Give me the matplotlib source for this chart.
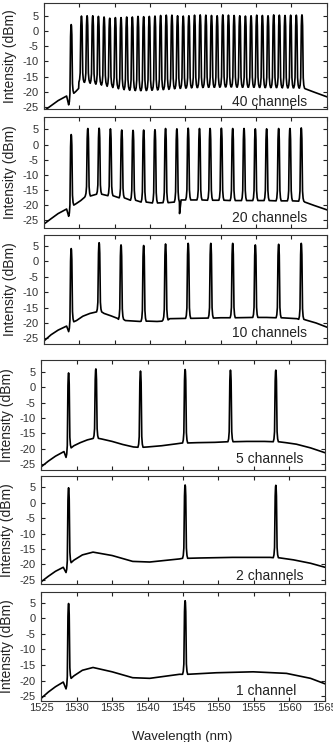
import matplotlib
matplotlib.use("Agg")
import matplotlib.pyplot as plt
import numpy as np

plt.rcParams['font.family'] = ['Liberation Sans', 'DejaVu Sans']
plt.rcParams['axes.unicode_minus'] = False

# ---- data (wavelength nm, intensity dBm) ----
labels = ["40 channels", "20 channels", "10 channels", "5 channels", "2 channels", "1 channel"]

# seed/pump line near 1528.85 nm: top, dip just before it, level right after it
seed_x = 1528.85
seed_top = [2.1, 3.3, 4.1, 4.7, 4.8, 4.8]
seed_dip = [-24.3, -23.7, -22.8, -22.8, -22.6, -22.7]
seed_after = [-20.5, -20.0, -19.6, -19.7, -19.4, -19.3]

# 40 channels
ch40_x = [1530.3, 1531.1, 1531.9, 1532.7, 1533.5, 1534.3, 1535.1, 1535.9, 1536.7, 1537.5,
          1538.3, 1539.1, 1539.9, 1540.7, 1541.5, 1542.3, 1543.1, 1543.9, 1544.7, 1545.5,
          1546.3, 1547.1, 1547.9, 1548.7, 1549.5, 1550.3, 1551.1, 1551.9, 1552.7, 1553.5,
          1554.3, 1555.1, 1555.9, 1556.7, 1557.5, 1558.3, 1559.1, 1559.9, 1560.7, 1561.5]
ch40_top = [4.9, 5.0, 5.0, 4.8, 4.6, 4.2, 4.4, 4.4, 4.6, 4.6,
            4.8, 4.7, 4.8, 4.9, 5.1, 5.2, 5.2, 5.0, 4.9, 5.0,
            5.2, 5.3, 5.2, 5.1, 5.0, 5.3, 5.2, 5.1, 5.0, 4.9,
            5.0, 5.2, 5.1, 5.0, 5.3, 5.2, 5.1, 5.2, 5.2, 5.3]
ch40_foot = [-16.8, -16.9, -17.2, -17.5, -17.8, -18.2, -18.6, -19.0, -19.3, -19.5,
             -19.6, -19.6, -19.5, -19.4, -19.3, -19.2, -19.0, -18.9, -18.8, -18.7,
             -18.6, -18.6, -18.5, -18.5, -18.5, -18.4, -18.4, -18.4, -18.5, -18.5,
             -18.5, -18.5, -18.6, -18.6, -18.6, -18.6, -18.7, -18.7, -18.7, -18.8]
bg40_x = [1524.8, 1526.0, 1527.0, 1528.2, 1529.5, 1529.9, 1561.95, 1563.2, 1565.2]
bg40_y = [-26.6, -24.6, -22.9, -21.4, -19.9, -18.9, -19.0, -20.1, -21.8]

# 20 channels
ch20_x = [1531.2, 1532.8, 1534.4, 1536.0, 1537.6, 1539.1, 1540.7, 1542.2, 1543.8, 1545.4,
          1547.0, 1548.5, 1550.1, 1551.7, 1553.3, 1554.9, 1556.5, 1558.2, 1559.8, 1561.4]
ch20_top = [5.3, 5.4, 5.2, 4.8, 4.7, 4.8, 4.9, 5.3, 5.2, 5.4,
            5.3, 5.3, 5.4, 5.3, 5.3, 5.2, 5.2, 5.3, 5.3, 5.5]
ch20_foot = [-17.0, -16.4, -16.9, -17.6, -18.4, -19.0, -19.3, -19.2, -19.0, -18.3,
             -18.3, -18.4, -18.4, -18.5, -18.5, -18.5, -18.5, -18.6, -18.6, -18.7]
bg20_x = [1524.8, 1526.0, 1527.0, 1528.2, 1529.5, 1530.2, 1530.75, 1544.18, 1544.4, 1561.9, 1563.2, 1565.2]
bg20_y = [-26.6, -24.5, -22.8, -21.3, -19.6, -18.5, -17.4, -22.8, -18.3, -19.0, -20.1, -21.7]

# 10 channels
ch10_x = [1532.8, 1535.9, 1539.1, 1542.2, 1545.4, 1548.6, 1551.7, 1554.9, 1558.2, 1561.4]
ch10_top = [6.0, 5.3, 5.1, 5.6, 5.8, 5.8, 5.8, 5.3, 5.5, 5.8]
ch10_foot = [-16.4, -18.8, -19.4, -19.0, -18.5, -18.4, -18.3, -18.2, -18.3, -18.8]
bg10_x = [1524.8, 1526.0, 1527.0, 1528.2, 1529.6, 1530.5, 1531.5, 1532.3, 1533.5, 1534.5, 1535.4,
          1536.5, 1537.8, 1538.6, 1539.8, 1541.0, 1541.7, 1542.8, 1544.8, 1550.0, 1556.5,
          1560.8, 1562.0, 1563.5, 1565.2]
bg10_y = [-26.2, -23.8, -22.3, -21.0, -19.2, -17.8, -16.9, -16.5, -16.9, -17.7, -18.5,
          -19.2, -19.4, -19.5, -19.4, -19.5, -19.4, -18.6, -18.5, -18.3, -18.2,
          -18.6, -19.0, -20.0, -21.5]

# 5 channels
ch5_x = [1532.7, 1539.0, 1545.3, 1551.7, 1558.1]
ch5_top = [6.0, 5.3, 5.8, 5.6, 5.6]
ch5_foot = [-16.6, -19.5, -18.1, -17.7, -17.7]
bg5_x = [1524.8, 1526.0, 1527.0, 1528.2, 1529.6, 1530.5, 1531.5, 1532.2, 1533.5, 1535.0,
         1536.5, 1538.0, 1540.0, 1542.0, 1544.0, 1547.0, 1549.5, 1554.0, 1556.5,
         1559.5, 1561.0, 1563.0, 1565.2]
bg5_y = [-26.2, -24.0, -22.4, -20.9, -19.0, -18.0, -17.1, -16.7, -16.8, -17.6,
         -18.6, -19.4, -19.4, -19.0, -18.4, -18.0, -17.9, -17.6, -17.6,
         -18.0, -18.5, -19.7, -21.4]

# 2 channels
ch2_x = [1545.3, 1558.1]
ch2_top = [5.7, 5.6]
ch2_foot = [-18.0, -17.8]
bg2_x = [1524.8, 1526.0, 1527.0, 1528.1, 1529.6, 1530.8, 1532.3, 1535.0, 1537.9, 1540.3,
         1544.5, 1547.3, 1552.0, 1557.3, 1560.6, 1563.0, 1565.2]
bg2_y = [-25.9, -23.8, -22.2, -20.9, -18.6, -16.9, -16.0, -17.1, -19.0, -19.2,
         -18.2, -17.9, -17.7, -17.7, -18.5, -19.6, -21.0]

# 1 channel
ch1_x = [1545.3]
ch1_top = [5.7]
ch1_foot = [-18.0]
bg1_x = [1524.8, 1526.0, 1527.0, 1528.1, 1529.6, 1530.8, 1532.3, 1535.0, 1537.9, 1540.3,
         1544.5, 1549.7, 1554.9, 1559.6, 1563.0, 1565.2]
bg1_y = [-26.1, -23.7, -22.0, -20.5, -18.5, -16.7, -15.8, -17.2, -19.1, -19.3,
         -18.0, -17.5, -17.2, -17.7, -19.3, -21.2]

panels = [
    (ch40_x, ch40_top, ch40_foot, bg40_x, bg40_y),
    (ch20_x, ch20_top, ch20_foot, bg20_x, bg20_y),
    (ch10_x, ch10_top, ch10_foot, bg10_x, bg10_y),
    (ch5_x, ch5_top, ch5_foot, bg5_x, bg5_y),
    (ch2_x, ch2_top, ch2_foot, bg2_x, bg2_y),
    (ch1_x, ch1_top, ch1_foot, bg1_x, bg1_y),
]

# ---- peak outline (style): offset in nm, fraction of peak height ----
pk_off = np.array([-0.36, -0.26, -0.18, -0.14, -0.09, -0.04, 0.0,
                   0.04, 0.09, 0.14, 0.18, 0.26, 0.36])
pk_frac = np.array([0.0, 0.04, 0.14, 0.45, 0.85, 0.98, 1.0,
                    0.98, 0.85, 0.45, 0.14, 0.04, 0.0])
half_win = 0.36


def build_trace(bx, by, px, ptop, pfl, pfr):
    xs, ys = [], []
    for x, y in zip(bx, by):
        if all(abs(x - p) > half_win for p in px):
            xs.append(x)
            ys.append(y)
    for p, top, fl, fr in zip(px, ptop, pfl, pfr):
        for off, fr_ in zip(pk_off, pk_frac):
            foot = fl if off < 0 else fr
            xs.append(p + off)
            ys.append(foot + fr_ * (top - foot))
    order = np.argsort(xs, kind="stable")
    return np.array(xs)[order], np.array(ys)[order]


# ---- layout in pixels: left, right, top, bottom, ylim, x max ----
W, H = 333, 742
boxes = [
    (44.0, 326.7, 3.3, 108.5, (-25.5, 9.1), 1564.8),
    (44.0, 326.7, 117.0, 227.5, (-27.4, 9.1), 1564.8),
    (44.0, 326.7, 235.0, 344.0, (-26.8, 8.5), 1564.8),
    (41.3, 324.7, 360.0, 470.0, (-26.9, 8.9), 1565.0),
    (41.3, 324.7, 476.0, 584.3, (-26.4, 8.6), 1565.0),
    (41.3, 324.7, 591.7, 700.7, (-26.5, 8.6), 1565.0),
]
label_x = [232, 232, 232, 236, 236, 236]
label_y = [102, 217.5, 333.3, 458.7, 576, 690.7]
ylab_x = [10, 10, 10, 7.5, 7.5, 7.5]

fig = plt.figure(figsize=(W / 100, H / 100), dpi=100, facecolor='white')

for i, (l, r, t, b, ylim, xmax) in enumerate(boxes):
    ax = fig.add_axes([l / W, 1 - b / H, (r - l) / W, (b - t) / H])
    chx, chtop, chfoot, bx, by = panels[i]
    px = [seed_x] + list(chx)
    ptop = [seed_top[i]] + list(chtop)
    pfl = [seed_dip[i]] + list(chfoot)
    pfr = [seed_after[i]] + list(chfoot)
    x, y = build_trace(bx, by, px, ptop, pfl, pfr)
    ax.plot(x, y, color='black', lw=1.2, solid_joinstyle='round')

    ax.set_xlim(1525, xmax)
    ax.set_ylim(*ylim)
    ax.set_xticks(np.arange(1525, 1566, 5))
    ax.set_yticks(np.arange(-25, 6, 5))
    ax.tick_params(direction='in', top=True, right=True, length=3, width=0.8,
                   labelsize=8, pad=2, colors='#222222', labelcolor='#333333')
    ax.tick_params(axis='y', pad=4)
    for s in ax.spines.values():
        s.set_linewidth(0.8)
        s.set_color('#333333')
    if i < 5:
        ax.set_xticklabels([])

    fig.text(label_x[i] / W, 1 - label_y[i] / H, labels[i], fontsize=10,
             ha='left', va='center', color='#222222')
    fig.text(ylab_x[i] / W, 1 - ((t + b) / 2) / H, "Intensity (dBm)", fontsize=10,
             rotation=90, ha='center', va='center', color='#222222')

fig.text(182.5 / W, 1 - 737 / H, "Wavelength (nm)", fontsize=9.5,
         ha='center', va='center', color='#222222')

fig.savefig("out.png", dpi=100, facecolor='white')
